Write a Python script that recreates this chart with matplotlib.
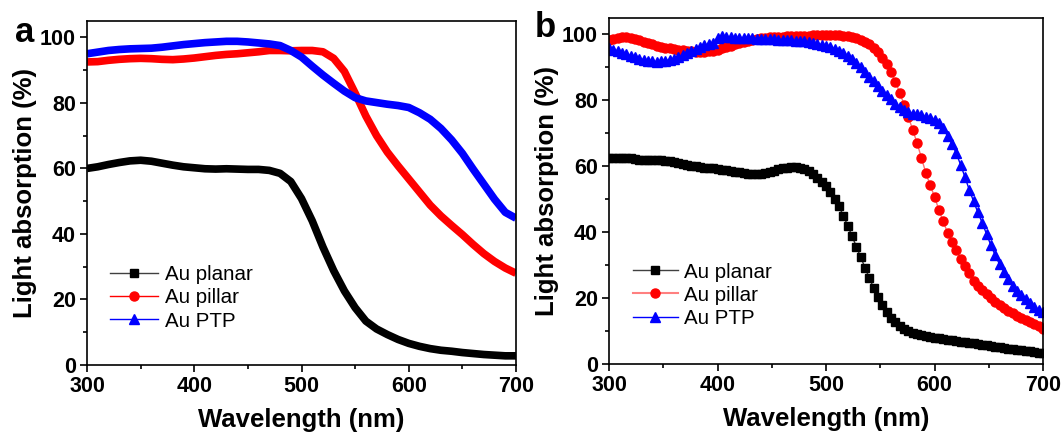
import numpy as np
import matplotlib
matplotlib.use("Agg")
import matplotlib.pyplot as plt
from matplotlib.lines import Line2D
from matplotlib.ticker import MultipleLocator

plt.rcParams['font.family'] = ['Liberation Sans', 'DejaVu Sans']
plt.rcParams['font.weight'] = 'bold'

# ---------------- Panel a data (10 nm step) ----------------
wl_a = np.arange(300, 701, 10)
planar_a = [60.0, 60.5, 61.2, 61.8, 62.3, 62.5, 62.2, 61.6, 61.0, 60.5, 60.2, 59.9, 59.8, 59.9,
            59.8, 59.7, 59.7, 59.4, 58.5, 56.0, 50.8, 44.0, 36.0, 28.8, 22.6, 17.5, 13.4, 11.0,
            9.3, 7.8, 6.6, 5.7, 5.0, 4.5, 4.2, 3.8, 3.5, 3.2, 3.0, 2.8, 2.8]
pillar_a = [92.5, 92.6, 93.0, 93.3, 93.5, 93.6, 93.5, 93.3, 93.2, 93.4, 93.7, 94.1, 94.5, 94.8,
            95.0, 95.3, 95.6, 96.0, 96.0, 95.9, 96.0, 96.0, 95.6, 93.6, 89.6, 83.0, 76.0, 70.0,
            65.0, 60.8, 56.8, 52.8, 48.8, 45.5, 42.6, 39.8, 36.8, 34.0, 31.6, 29.6, 28.0]
ptp_a = [95.0, 95.5, 96.0, 96.3, 96.5, 96.6, 96.7, 97.0, 97.4, 97.8, 98.1, 98.4, 98.6, 98.8,
         98.8, 98.6, 98.3, 98.0, 97.5, 96.0, 94.0, 91.2, 88.5, 86.0, 83.6, 81.6, 80.6, 80.1,
         79.6, 79.2, 78.6, 77.0, 75.0, 72.2, 68.7, 64.6, 59.8, 55.2, 50.6, 46.6, 44.8]

# ---------------- Panel b data (4 nm step) ----------------
wl_b = np.arange(300, 701, 4)
planar_b = [62.5, 62.6, 62.6, 62.6, 62.5, 62.4, 62.2, 62.0, 61.9, 61.8,
            61.8, 61.8, 61.8, 61.7, 61.5, 61.2, 60.9, 60.6, 60.3, 60.1,
            60.0, 59.8, 59.6, 59.5, 59.4, 59.2, 59.0, 58.8, 58.6, 58.4,
            58.3, 58.0, 57.8, 57.6, 57.6, 57.7, 57.9, 58.3, 58.7, 59.1,
            59.4, 59.6, 59.8, 59.8, 59.6, 59.2, 58.5, 57.6, 56.5, 55.3,
            54.0, 52.2, 50.2, 47.8, 45.0, 42.0, 38.8, 35.6, 32.4, 29.2,
            26.0, 23.0, 20.3, 18.0, 15.9, 14.0, 12.6, 11.5, 10.7, 10.0,
            9.5, 9.1, 8.8, 8.5, 8.2, 8.0, 7.8, 7.6, 7.4, 7.2,
            7.0, 6.8, 6.6, 6.5, 6.3, 6.1, 5.9, 5.8, 5.6, 5.3,
            5.1, 4.9, 4.7, 4.5, 4.3, 4.2, 4.0, 3.8, 3.6, 3.4,
            3.2]
pillar_b = [98.3, 98.6, 98.9, 99.1, 99.1, 99.0, 98.7, 98.2, 97.7, 97.3,
            97.0, 96.6, 96.2, 95.9, 95.8, 95.6, 95.4, 95.2, 95.0, 94.9,
            94.8, 94.7, 94.8, 94.9, 95.1, 95.4, 95.8, 96.2, 96.6, 97.0,
            97.4, 97.8, 98.1, 98.4, 98.7, 98.9, 99.0, 99.1, 99.2, 99.3,
            99.3, 99.4, 99.4, 99.5, 99.5, 99.6, 99.6, 99.7, 99.7, 99.8,
            99.8, 99.8, 99.8, 99.7, 99.6, 99.4, 99.1, 98.8, 98.3, 97.7,
            97.0, 95.9, 94.6, 93.0, 91.0, 88.5, 85.6, 82.3, 78.7, 74.9,
            71.0, 67.0, 62.5, 58.0, 54.3, 50.8, 46.8, 43.3, 39.9, 37.1,
            34.5, 32.0, 29.7, 27.5, 25.3, 23.8, 22.4, 21.1, 19.9, 18.8,
            17.9, 17.0, 16.2, 15.4, 14.7, 14.1, 13.4, 12.8, 12.2, 11.4,
            10.5]
ptp_b = [96.0, 95.4, 94.9, 94.4, 94.0, 93.6, 93.1, 92.7, 92.3, 92.0,
         91.8, 91.7, 91.8, 92.0, 92.3, 92.7, 93.2, 93.8, 94.4, 95.0,
         95.6, 96.2, 96.7, 97.1, 97.5, 99.0, 99.4, 99.2, 99.1, 99.0,
         98.9, 98.9, 98.8, 98.8, 98.7, 98.6, 98.6, 98.5, 98.5, 98.4,
         98.3, 98.3, 98.2, 98.1, 98.0, 97.9, 97.7, 97.5, 97.2, 96.9,
         96.6, 96.2, 95.7, 95.1, 94.4, 93.5, 92.5, 91.3, 90.0, 88.6,
         87.2, 85.8, 84.3, 82.8, 81.5, 80.3, 79.0, 78.0, 77.2, 76.5,
         76.0, 75.8, 75.5, 75.0, 74.6, 74.0, 73.2, 71.5, 69.2, 66.8,
         64.0, 60.5, 56.8, 52.9, 49.4, 46.0, 42.8, 39.4, 36.0, 33.0,
         30.2, 28.0, 25.8, 23.8, 22.2, 21.0, 19.7, 18.4, 17.3, 16.5,
         15.8]

labels = ["Au planar", "Au pillar", "Au PTP"]
xticks = [300, 400, 500, 600, 700]
yticks = [0, 20, 40, 60, 80, 100]

W, H = 1063, 432
fig = plt.figure(figsize=(W / 100, H / 100), dpi=100)
ax_a = fig.add_axes([87 / W, (H - 365) / H, 429 / W, 344 / H])
ax_b = fig.add_axes([609 / W, (H - 364) / H, 434 / W, 346 / H])


def style(ax):
    ax.set_xlim(300, 700)
    ax.set_ylim(0, 105)
    ax.set_xticks(xticks)
    ax.set_yticks(yticks)
    ax.xaxis.set_minor_locator(MultipleLocator(50))
    ax.yaxis.set_minor_locator(MultipleLocator(10))
    ax.tick_params(which='both', direction='out', top=False, right=False,
                   width=1.2, labelsize=15.5, pad=3)
    ax.tick_params(which='major', length=5)
    ax.tick_params(which='minor', length=3)
    for s in ax.spines.values():
        s.set_linewidth(1.2)
    ax.set_xlabel("Wavelength (nm)", fontsize=18.5, fontweight='bold', labelpad=8)
    ax.set_ylabel("Light absorption (%)", fontsize=18.5, fontweight='bold', labelpad=2)


# Panel a: dense data drawn as thick bands
ax_a.plot(wl_a, planar_a, color='black', lw=5.5, solid_capstyle='butt', zorder=3)
ax_a.plot(wl_a, pillar_a, color='#ff0000', lw=5.5, solid_capstyle='butt', zorder=2)
ax_a.plot(wl_a, ptp_a, color='#0000ff', lw=5.5, solid_capstyle='butt', zorder=2.5)
style(ax_a)
handles_a = [
    Line2D([], [], color='#404040', lw=1, marker='s', ms=5.5, mfc='black', mec='black'),
    Line2D([], [], color='#ff0000', lw=1, marker='o', ms=6.5, mfc='#ff0000', mec='#ff0000'),
    Line2D([], [], color='#0000ff', lw=1, marker='^', ms=6.5, mfc='#0000ff', mec='#0000ff'),
]
ax_a.legend(handles_a, labels, loc='center left', bbox_to_anchor=(0.054, 0.195),
            frameon=False, prop={'size': 14.8, 'weight': 'normal'}, borderpad=0,
            borderaxespad=0, labelspacing=0.2, handlelength=2.35, handletextpad=0.3)

# Panel b: marker series
ax_b.plot(wl_b, planar_b, color='#303030', lw=1, marker='s', ms=5.5,
          mfc='black', mec='black', zorder=3)
ax_b.plot(wl_b, pillar_b, color='#ff7070', lw=1, marker='o', ms=6.5,
          mfc='#ff0000', mec='#ff0000', zorder=2)
ax_b.plot(wl_b, ptp_b, color='#0000ff', lw=1, marker='^', ms=7,
          mfc='#0000ff', mec='#0000ff', zorder=2.5)
style(ax_b)
handles_b = [
    Line2D([], [], color='#404040', lw=1, marker='s', ms=5.5, mfc='black', mec='black'),
    Line2D([], [], color='#ff8080', lw=1.5, marker='o', ms=6.5, mfc='#ff0000', mec='#ff0000'),
    Line2D([], [], color='#0000ff', lw=1, marker='^', ms=6.5, mfc='#0000ff', mec='#0000ff'),
]
ax_b.legend(handles_b, labels, loc='center left', bbox_to_anchor=(0.055, 0.199),
            frameon=False, prop={'size': 14.8, 'weight': 'normal'}, borderpad=0,
            borderaxespad=0, labelspacing=0.2, handlelength=2.2, handletextpad=0.3)

fig.text(15 / W, (H - 42) / H, "a", fontsize=25, fontweight='bold', ha='left', va='baseline')
fig.text(535 / W, (H - 37) / H, "b", fontsize=25, fontweight='bold', ha='left', va='baseline')

fig.savefig("out.png", dpi=100)
